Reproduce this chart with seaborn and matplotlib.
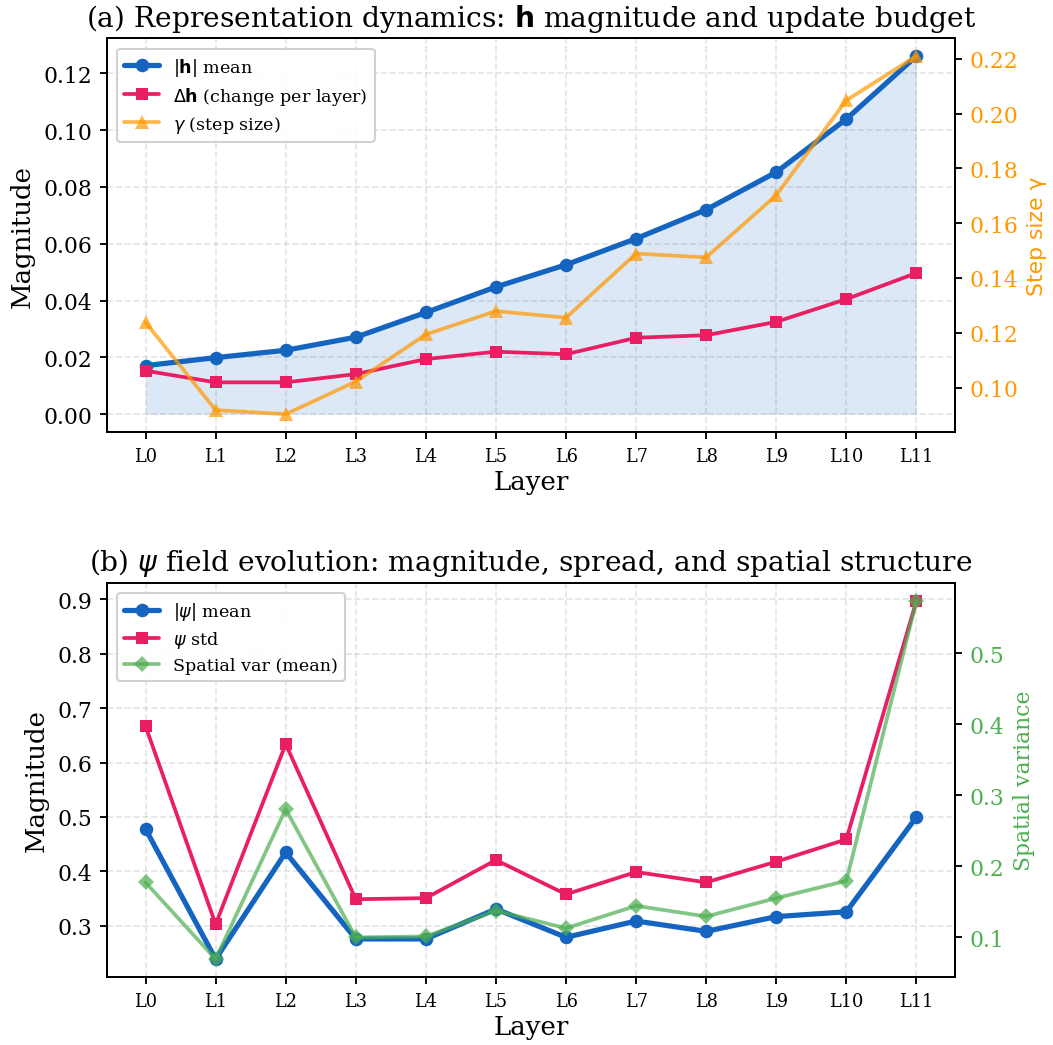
import numpy as np
import pandas as pd
import seaborn as sns
import matplotlib.pyplot as plt
from matplotlib.lines import Line2D

# ---- data ----
layers = [f"L{i}" for i in range(12)]

h_mean = [0.0171, 0.0199, 0.0225, 0.0271, 0.0358, 0.0448,
          0.0526, 0.0618, 0.0720, 0.0852, 0.1039, 0.1261]
dh = [0.0153, 0.0112, 0.0112, 0.0141, 0.0194, 0.0220,
      0.0211, 0.0269, 0.0278, 0.0325, 0.0405, 0.0497]
gamma = [0.1238, 0.0918, 0.0903, 0.1022, 0.1194, 0.1279,
         0.1255, 0.1489, 0.1475, 0.1702, 0.2048, 0.2210]

psi_abs = [0.478, 0.239, 0.435, 0.276, 0.276, 0.331,
           0.279, 0.309, 0.290, 0.317, 0.326, 0.500]
psi_std = [0.667, 0.303, 0.634, 0.349, 0.351, 0.421,
           0.358, 0.399, 0.380, 0.418, 0.459, 0.897]
spatial_var = [0.1774, 0.0695, 0.2805, 0.100, 0.1014, 0.1375,
               0.113, 0.1445, 0.1295, 0.1553, 0.1797, 0.5736]

BLUE = "#1565C0"
PINK = "#E91E63"
ORANGE = "#FF9800"
GREEN = "#4CAF50"

sns.set_theme(style="ticks", rc={
    "axes.edgecolor": "black",
    "axes.labelcolor": "black",
    "text.color": "black",
    "xtick.color": "black",
    "ytick.color": "black",
    "xtick.major.size": 3.5,
    "ytick.major.size": 3.5,
    "xtick.major.width": 0.9,
    "ytick.major.width": 0.9,
    "axes.linewidth": 0.9,
})
plt.rcParams["font.family"] = ["DejaVu Serif"]
plt.rcParams["mathtext.fontset"] = "dejavusans"

df = pd.DataFrame({
    "x": np.arange(len(layers)),
    "h_mean": h_mean, "dh": dh, "gamma": gamma,
    "psi_abs": psi_abs, "psi_std": psi_std, "spatial_var": spatial_var,
})

fig, (ax_a, ax_b) = plt.subplots(2, 1, figsize=(7.02, 6.973), dpi=150)
fig.subplots_adjust(left=0.1016, right=0.9069, top=0.9627, bottom=0.065, hspace=0.383)


def style_axis(ax):
    ax.set_xticks(df["x"])
    ax.set_xticklabels(layers, fontsize=8.5)
    ax.tick_params(axis="y", labelsize=10.5)
    ax.set_xlabel("Layer", fontsize=12.5, labelpad=2)
    ax.set_ylabel("Magnitude", fontsize=12.5)
    ax.grid(True, linestyle="--", color="#b0b0b0", alpha=0.35, linewidth=0.8)


legend_kw = dict(loc="upper left", fontsize=8.4, framealpha=0.9, edgecolor="#cccccc",
                 borderaxespad=0.6, labelspacing=0.4)

# =========================
# (a) h magnitude
# =========================
ax = ax_a
ax.fill_between(df["x"], 0, df["h_mean"], color=BLUE, alpha=0.15, linewidth=0)
sns.lineplot(data=df, x="x", y="h_mean", ax=ax, color=BLUE, linewidth=2.5,
             marker="o", markersize=6.5, markeredgewidth=0, legend=False)
sns.lineplot(data=df, x="x", y="dh", ax=ax, color=PINK, linewidth=1.8,
             marker="s", markersize=6, markeredgewidth=0, legend=False)
style_axis(ax)
ax.set_title(r"(a) Representation dynamics: $\mathbf{h}$ magnitude and update budget",
             fontsize=13.5, pad=6)

ax2 = ax.twinx()
sns.lineplot(data=df, x="x", y="gamma", ax=ax2, color=ORANGE, alpha=0.7, linewidth=1.8,
             marker="^", markersize=6.5, markeredgewidth=0, legend=False)
ax2.set_ylabel("Step size γ", color=ORANGE, fontsize=10.5, family="DejaVu Sans")
ax2.tick_params(axis="y", labelcolor=ORANGE, labelsize=10.5)
ax2.set_xlabel("")

handles = [
    Line2D([], [], color=BLUE, lw=2.5, marker="o", ms=6.5, mew=0),
    Line2D([], [], color=PINK, lw=1.8, marker="s", ms=6, mew=0),
    Line2D([], [], color=ORANGE, alpha=0.7, lw=1.8, marker="^", ms=6.5, mew=0),
]
labels = [r"$|\mathbf{h}|$ mean", r"$\Delta\mathbf{h}$ (change per layer)",
          r"$\gamma$ (step size)"]
ax2.legend(handles, labels, **legend_kw)

# =========================
# (b) psi field
# =========================
ax = ax_b
sns.lineplot(data=df, x="x", y="psi_abs", ax=ax, color=BLUE, linewidth=2.5,
             marker="o", markersize=6.5, markeredgewidth=0, legend=False)
sns.lineplot(data=df, x="x", y="psi_std", ax=ax, color=PINK, linewidth=1.8,
             marker="s", markersize=6, markeredgewidth=0, legend=False)
style_axis(ax)
ax.set_title(r"(b) $\psi$ field evolution: magnitude, spread, and spatial structure",
             fontsize=13.5, pad=6)

ax2 = ax.twinx()
sns.lineplot(data=df, x="x", y="spatial_var", ax=ax2, color=GREEN, alpha=0.7,
             linewidth=1.8, marker="D", markersize=5.5, markeredgewidth=0, legend=False)
ax2.set_ylabel("Spatial variance", color=GREEN, fontsize=10.5)
ax2.tick_params(axis="y", labelcolor=GREEN, labelsize=10.5)
ax2.set_xlabel("")

handles = [
    Line2D([], [], color=BLUE, lw=2.5, marker="o", ms=6.5, mew=0),
    Line2D([], [], color=PINK, lw=1.8, marker="s", ms=6, mew=0),
    Line2D([], [], color=GREEN, alpha=0.7, lw=1.8, marker="D", ms=5.5, mew=0),
]
labels = [r"$|\psi|$ mean", r"$\psi$ std", "Spatial var (mean)"]
ax2.legend(handles, labels, **legend_kw)

fig.savefig("out.png", dpi=150)
